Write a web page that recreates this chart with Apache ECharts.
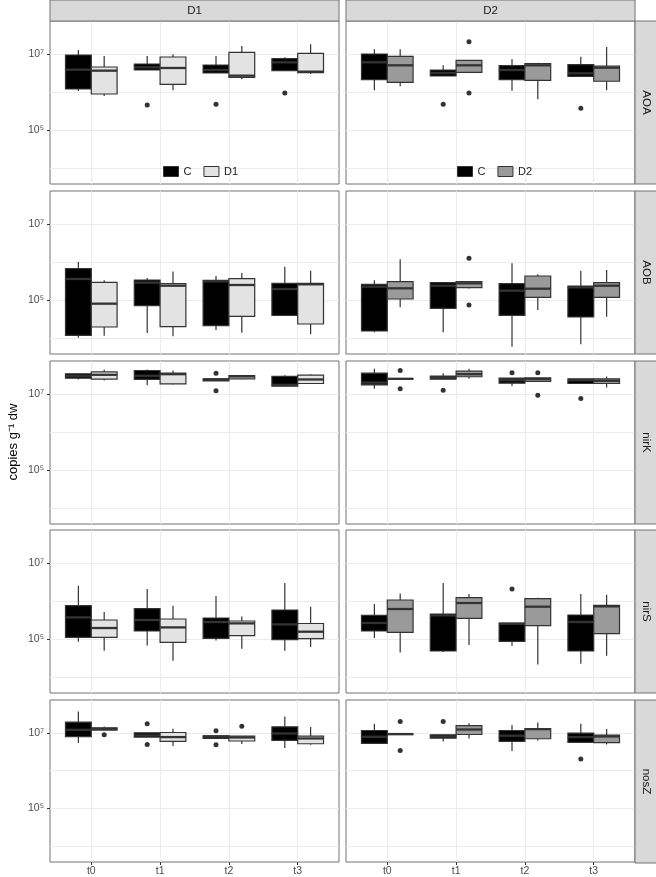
<!DOCTYPE html>
<html><head><meta charset="utf-8">
<script src="https://cdn.jsdelivr.net/npm/echarts@6/dist/echarts.min.js"></script>
<style>html,body{margin:0;padding:0;background:#fff}#c{width:656px;height:877px}</style>
</head><body><div id="c"></div>
<script>
const timepoints = ['t0', 't1', 't2', 't3'];
const genes = ['AOA', 'AOB', 'nirK', 'nirS', 'nosZ'];
const treatments = ['D1', 'D2'];
const yTickExponents = [5, 7];
const yMinorExponents = [4, 6];

// values are log10(copies g-1 dw); each box: [whiskerLow, Q1, median, Q3, whiskerHigh] for t0..t3
// outliers: [timepointIndex, value]
const AOA_D1_C = [[6.026,6.079,6.587,6.974,7.105],[6.579,6.579,6.65,6.737,6.947],[6.5,6.5,6.579,6.71,6.947],[6.55,6.56,6.78,6.877,6.913]];
const AOA_D1_T = [[5.895,5.947,6.561,6.658,6.947],[6.045,6.203,6.632,6.921,6.992],[6.334,6.387,6.43,7.045,7.21],[6.474,6.508,6.535,7.018,7.255]];
const AOA_D1_C_out = [[1,5.658],[2,5.676],[3,5.974]];
const AOA_D1_T_out = [];
const AOA_D2_C = [[6.045,6.324,6.781,7.0,7.124],[6.421,6.421,6.5,6.579,6.702],[6.034,6.324,6.579,6.692,6.86],[6.413,6.413,6.492,6.718,6.929]];
const AOA_D2_T = [[6.15,6.255,6.702,6.939,7.124],[6.518,6.518,6.702,6.834,6.834],[5.808,6.308,6.702,6.745,6.771],[6.045,6.282,6.64,6.684,7.184]];
const AOA_D2_C_out = [[1,5.676],[3,5.571]];
const AOA_D2_T_out = [[1,7.324],[1,5.974]];

const AOB_D1_C = [[4.008,4.071,5.553,5.824,6.0],[4.132,4.85,5.456,5.526,5.579],[4.21,4.324,5.49,5.518,5.632],[4.58,4.597,5.289,5.439,5.877]];
const AOB_D1_T = [[4.061,4.289,4.903,5.466,5.518],[4.045,4.297,5.376,5.429,5.75],[4.14,4.571,5.395,5.561,5.711],[4.097,4.368,5.413,5.439,5.771]];
const AOB_D1_C_out = [];
const AOB_D1_T_out = [];
const AOB_D2_C = [[4.15,4.184,5.35,5.413,5.518],[4.15,4.781,5.376,5.456,5.47],[3.771,4.597,5.245,5.429,5.965],[3.834,4.553,5.333,5.368,5.771]];
const AOB_D2_T = [[4.808,5.026,5.307,5.482,6.07],[5.3,5.324,5.439,5.482,5.5],[4.737,5.071,5.297,5.632,5.676],[4.561,5.071,5.376,5.456,5.789]];
const AOB_D2_C_out = [];
const AOB_D2_T_out = [[1,6.097],[1,4.868]];

const nirK_D1_C = [[7.382,7.416,7.479,7.532,7.54],[7.232,7.382,7.479,7.618,7.645],[7.347,7.347,7.382,7.4,7.4],[7.2,7.205,7.24,7.461,7.495]];
const nirK_D1_T = [[7.355,7.39,7.505,7.584,7.645],[7.25,7.268,7.521,7.547,7.618],[7.39,7.4,7.461,7.487,7.5],[7.27,7.276,7.382,7.495,7.521]];
const nirK_D1_C_out = [[2,7.547],[2,7.084]];
const nirK_D1_T_out = [];
const nirK_D2_C = [[7.137,7.242,7.3,7.547,7.663],[7.39,7.39,7.426,7.468,7.547],[7.205,7.284,7.363,7.416,7.416],[7.276,7.276,7.363,7.4,7.4]];
const nirK_D2_T = [[7.395,7.395,7.4,7.405,7.405],[7.4,7.453,7.521,7.6,7.663],[7.32,7.329,7.39,7.426,7.44],[7.171,7.276,7.347,7.4,7.461]];
const nirK_D2_C_out = [[1,7.1],[2,7.558],[3,6.882]];
const nirK_D2_T_out = [[0,7.618],[0,7.137],[2,7.558],[2,6.97]];

const nirS_D1_C = [[4.929,5.042,5.568,5.876,6.403],[4.832,5.211,5.5,5.797,6.316],[4.963,5.016,5.447,5.553,6.132],[4.692,4.982,5.384,5.763,6.474]];
const nirS_D1_T = [[4.692,5.042,5.289,5.5,5.711],[4.429,4.911,5.305,5.526,5.876],[4.745,5.087,5.411,5.474,5.595],[4.789,5.008,5.192,5.408,5.85]];
const nirS_D1_C_out = [];
const nirS_D1_T_out = [];
const nirS_D2_C = [[5.026,5.211,5.421,5.621,5.921],[4.66,4.684,5.62,5.658,6.474],[4.824,4.937,5.4,5.421,5.421],[4.35,4.684,5.447,5.632,6.184]];
const nirS_D2_T = [[4.647,5.174,5.789,6.026,6.2],[4.842,5.542,5.947,6.087,6.184],[4.332,5.35,5.85,6.061,6.087],[4.561,5.139,5.858,5.884,6.166]];
const nirS_D2_C_out = [[2,6.316]];
const nirS_D2_T_out = [];

const nosZ_D1_C = [[6.729,6.895,7.079,7.282,7.561],[6.886,6.886,6.93,7.0,7.0],[6.85,6.85,6.9,6.921,6.921],[6.597,6.797,6.982,7.158,7.429]];
const nosZ_D1_T = [[7.07,7.07,7.105,7.132,7.166],[6.65,6.771,6.886,7.008,7.105],[6.703,6.782,6.876,6.913,6.913],[6.684,6.71,6.85,6.913,7.15]];
const nosZ_D1_C_out = [[1,7.237],[1,6.692],[2,7.053],[2,6.684]];
const nosZ_D1_T_out = [[0,6.947],[2,7.176]];
const nosZ_D2_C = [[6.71,6.718,6.895,7.061,7.237],[6.771,6.86,6.903,6.947,6.947],[6.518,6.771,6.921,7.061,7.203],[6.745,6.745,6.886,6.992,7.237]];
const nosZ_D2_T = [[6.966,6.966,6.966,6.966,6.966],[6.85,6.955,7.087,7.192,7.255],[6.797,6.842,7.097,7.113,7.271],[6.692,6.737,6.903,6.939,7.097]];
const nosZ_D2_C_out = [[1,7.297],[3,6.308]];
const nosZ_D2_T_out = [[0,7.297],[0,6.534]];

const panels = {
  AOA: [[AOA_D1_C, AOA_D1_T, AOA_D1_C_out, AOA_D1_T_out], [AOA_D2_C, AOA_D2_T, AOA_D2_C_out, AOA_D2_T_out]],
  AOB: [[AOB_D1_C, AOB_D1_T, AOB_D1_C_out, AOB_D1_T_out], [AOB_D2_C, AOB_D2_T, AOB_D2_C_out, AOB_D2_T_out]],
  nirK: [[nirK_D1_C, nirK_D1_T, nirK_D1_C_out, nirK_D1_T_out], [nirK_D2_C, nirK_D2_T, nirK_D2_C_out, nirK_D2_T_out]],
  nirS: [[nirS_D1_C, nirS_D1_T, nirS_D1_C_out, nirS_D1_T_out], [nirS_D2_C, nirS_D2_T, nirS_D2_C_out, nirS_D2_T_out]],
  nosZ: [[nosZ_D1_C, nosZ_D1_T, nosZ_D1_C_out, nosZ_D1_T_out], [nosZ_D2_C, nosZ_D2_T, nosZ_D2_C_out, nosZ_D2_T_out]]
};

// ---- layout & style ----
const FONT = 'Liberation Sans, Arial, sans-serif';
const colLeft = [50, 346];
const colWidth = 289;
const rowTop = [21, 191, 361, 530, 700];
const rowHeight = 163;
const Y_MIN = 3.579, Y_MAX = 7.868;
const BORDER = '#737373';
const GRIDC = '#EBEBEB';
const fillC = '#000000';
const fillT = ['#E3E3E3', '#9A9A9A'];
const DODGE = 0.1875, BOXW = 0.375;
const SUP = {'4':'\u2074','5':'\u2075','6':'\u2076','7':'\u2077'};

function makeBox(offset, fill) {
  return function (params, api) {
    const x = api.value(0) + offset;
    const unit = api.size([1, 0])[0];
    const half = unit * BOXW / 2;
    const lo = api.coord([x, api.value(1)]);
    const q1 = api.coord([x, api.value(2)]);
    const md = api.coord([x, api.value(3)]);
    const q3 = api.coord([x, api.value(4)]);
    const hi = api.coord([x, api.value(5)]);
    const cx = lo[0];
    const ls = {stroke: '#333333', lineWidth: 1.2};
    return {type: 'group', children: [
      {type: 'line', shape: {x1: cx, y1: hi[1], x2: cx, y2: q3[1]}, style: ls},
      {type: 'line', shape: {x1: cx, y1: q1[1], x2: cx, y2: lo[1]}, style: ls},
      {type: 'rect', shape: {x: cx - half, y: q3[1], width: 2 * half, height: Math.max(q1[1] - q3[1], 0.5)},
        style: {fill: fill, stroke: '#333333', lineWidth: 1.2}},
      {type: 'line', shape: {x1: cx - half, y1: md[1], x2: cx + half, y2: md[1]},
        style: {stroke: '#333333', lineWidth: 2.3}}
    ]};
  };
}
function makePoint(offset) {
  return function (params, api) {
    const p = api.coord([api.value(0) + offset, api.value(1)]);
    return {type: 'circle', shape: {cx: p[0], cy: p[1], r: 2.5}, style: {fill: '#333333'}};
  };
}

const grids = [], xAxes = [], yAxes = [], series = [], graphics = [];
genes.forEach(function (g, r) {
  [0, 1].forEach(function (c) {
    const p = r * 2 + c;
    grids.push({left: colLeft[c], top: rowTop[r], width: colWidth, height: rowHeight,
      show: true, borderColor: BORDER, borderWidth: 1, backgroundColor: '#fff'});
    xAxes.push({gridIndex: p, type: 'value', min: 0.4, max: 4.6,
      axisLine: {show: false},
      axisTick: {show: r === 4, customValues: [1, 2, 3, 4], length: 3, lineStyle: {color: '#333'}},
      axisLabel: {show: r === 4, customValues: [1, 2, 3, 4], formatter: v => timepoints[Math.round(v) - 1],
        color: '#4D4D4D', fontSize: 10.5, margin: 4, fontFamily: FONT},
      splitLine: {show: true, lineStyle: {color: GRIDC, width: 1}}});
    yAxes.push({gridIndex: p, type: 'value', min: Y_MIN, max: Y_MAX, position: 'left',
      axisLine: {show: false},
      axisTick: {show: c === 0, customValues: yTickExponents, length: 3, lineStyle: {color: '#333'}},
      axisLabel: {show: c === 0, customValues: yTickExponents, formatter: v => '10' + SUP[String(Math.round(v))],
        color: '#4D4D4D', fontSize: 10.5, margin: 6, fontFamily: FONT},
      splitLine: {show: true, lineStyle: {color: GRIDC, width: 1}}});
    yAxes.push({gridIndex: p, type: 'value', min: Y_MIN, max: Y_MAX, position: 'left',
      axisLine: {show: false},
      axisTick: {show: false, customValues: yMinorExponents},
      axisLabel: {show: false},
      splitLine: {show: true, lineStyle: {color: GRIDC, width: 1}}});
    const d = panels[g][c];
    const common = {type: 'custom', xAxisIndex: p, yAxisIndex: p * 2, silent: true, z: 3};
    series.push(Object.assign({}, common, {name: 'C', itemStyle: {color: fillC},
      renderItem: makeBox(-DODGE, fillC), encode: {x: 0, y: [1, 2, 3, 4, 5]},
      data: d[0].map((v, i) => [i + 1].concat(v))}));
    series.push(Object.assign({}, common, {name: treatments[c], itemStyle: {color: fillT[c]},
      renderItem: makeBox(DODGE, fillT[c]), encode: {x: 0, y: [1, 2, 3, 4, 5]},
      data: d[1].map((v, i) => [i + 1].concat(v))}));
    series.push(Object.assign({}, common, {name: 'outliers C', z: 4,
      renderItem: makePoint(-DODGE), encode: {x: 0, y: 1},
      data: d[2].map(o => [o[0] + 1, o[1]])}));
    series.push(Object.assign({}, common, {name: 'outliers ' + treatments[c], z: 4,
      renderItem: makePoint(DODGE), encode: {x: 0, y: 1},
      data: d[3].map(o => [o[0] + 1, o[1]])}));
  });
});

// strips
[0, 1].forEach(function (c) {
  graphics.push({type: 'rect', shape: {x: colLeft[c], y: 0, width: colWidth, height: 21},
    style: {fill: '#D9D9D9', stroke: BORDER, lineWidth: 1}, z: 10});
  graphics.push({type: 'text', x: colLeft[c] + colWidth / 2, y: 11, z: 11,
    style: {text: treatments[c], fill: '#1A1A1A', fontSize: 11.5, fontFamily: FONT, align: 'center', verticalAlign: 'middle'}});
});
genes.forEach(function (g, r) {
  graphics.push({type: 'rect', shape: {x: 635, y: rowTop[r], width: 22, height: rowHeight},
    style: {fill: '#D9D9D9', stroke: BORDER, lineWidth: 1}, z: 10});
  graphics.push({type: 'text', x: 646, y: rowTop[r] + rowHeight / 2, rotation: -Math.PI / 2, z: 11,
    style: {text: g, fill: '#1A1A1A', fontSize: 11.5, fontFamily: FONT, align: 'center', verticalAlign: 'middle'}});
});
graphics.push({type: 'text', x: 13, y: 442, rotation: Math.PI / 2, z: 11,
  style: {text: 'copies g\u207B\u00B9 dw', fill: '#000', fontSize: 13, fontFamily: FONT, align: 'center', verticalAlign: 'middle'}});

const legendBase = {orient: 'horizontal', top: 166, padding: 0, itemWidth: 15, itemHeight: 10, itemGap: 12,
  icon: 'rect', selectedMode: false, itemStyle: {borderColor: '#333', borderWidth: 1},
  textStyle: {fontSize: 11, color: '#1A1A1A', fontFamily: FONT}};

const option = {
  animation: false,
  backgroundColor: '#ffffff',
  textStyle: {fontFamily: FONT},
  grid: grids, xAxis: xAxes, yAxis: yAxes, series: series,
  legend: [
    Object.assign({}, legendBase, {left: 163, data: ['C', 'D1']}),
    Object.assign({}, legendBase, {left: 457, data: ['C', 'D2']})
  ],
  graphic: graphics
};
const chart = echarts.init(document.getElementById('c'), null, {renderer: 'canvas'});
chart.setOption(option);
</script></body></html>
